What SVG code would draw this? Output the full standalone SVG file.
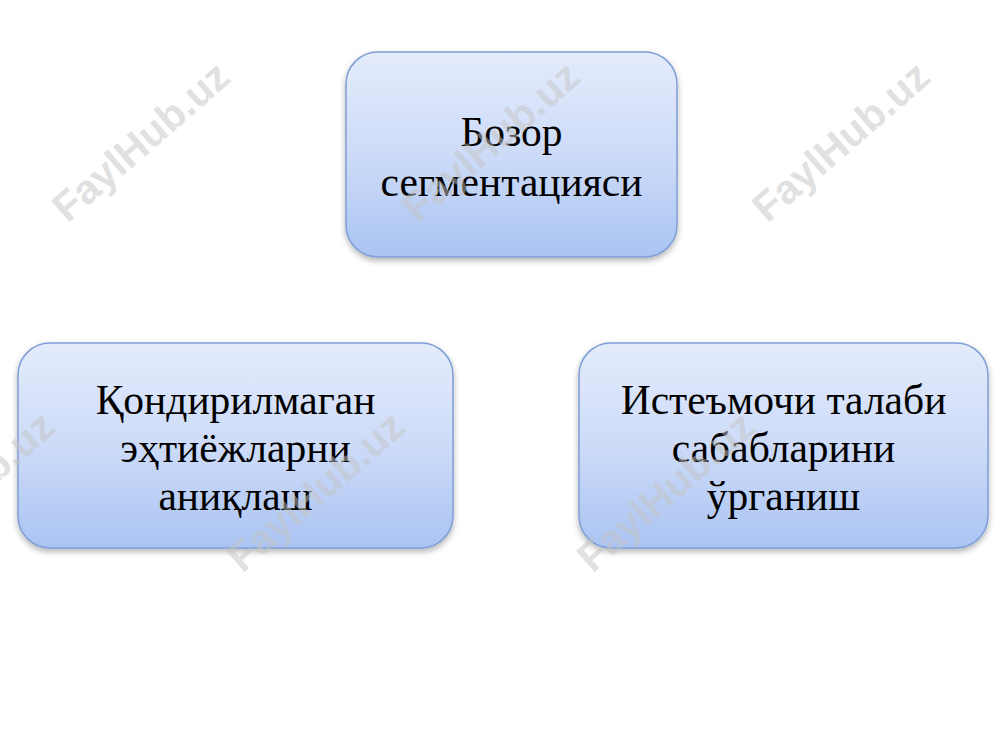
<svg xmlns="http://www.w3.org/2000/svg" width="1000" height="750" viewBox="0 0 1000 750">
<defs>
<linearGradient id="g" x1="0" y1="0" x2="0" y2="1">
<stop offset="0" stop-color="#e4ecfc"/>
<stop offset="0.5" stop-color="#cddbf8"/>
<stop offset="1" stop-color="#aac4f3"/>
</linearGradient>
<filter id="sh" x="-10%" y="-10%" width="120%" height="125%">
<feGaussianBlur in="SourceAlpha" stdDeviation="3"/>
<feOffset dx="0" dy="3" result="b"/>
<feComponentTransfer><feFuncA type="linear" slope="0.3"/></feComponentTransfer>
<feMerge><feMergeNode/><feMergeNode in="SourceGraphic"/></feMerge>
</filter>
</defs>
<style>
.box{fill:url(#g);stroke:#7f9fd6;stroke-width:1.5;filter:url(#sh)}
.t{font-family:"Liberation Serif","Times New Roman",serif;font-size:41.5px;fill:#000;text-anchor:middle}
.wm{font-family:"Liberation Sans",Arial,sans-serif;font-weight:bold;font-size:41px;fill:#c4c4c4;fill-opacity:0.5;text-anchor:middle}
</style>
<rect width="1000" height="750" fill="#fff"/>
<g id="connectors"></g>
<g id="node-top">
<rect class="box" x="346" y="52" width="331" height="205" rx="32"/>
<text class="t" x="511.5" y="146">Бозор</text>
<text class="t" x="511.5" y="196">сегментацияси</text>
</g>
<g id="node-left">
<rect class="box" x="18" y="343" width="435" height="205" rx="32"/>
<text class="t" x="235.5" y="414">Қондирилмаган</text>
<text class="t" x="235.5" y="462">эҳтиёжларни</text>
<text class="t" x="235.5" y="510">аниқлаш</text>
</g>
<g id="node-right">
<rect class="box" x="579" y="343" width="409" height="205" rx="32"/>
<text class="t" x="783.5" y="414">Истеъмочи талаби</text>
<text class="t" x="783.5" y="462">сабабларини</text>
<text class="t" x="783.5" y="510">ўрганиш</text>
</g>
<g id="watermarks">
<text class="wm" transform="translate(150,152) rotate(-41)">FaylHub.uz</text>
<text class="wm" transform="translate(500,152) rotate(-41)">FaylHub.uz</text>
<text class="wm" transform="translate(850,152) rotate(-41)">FaylHub.uz</text>
<text class="wm" transform="translate(-25,502) rotate(-41)">FaylHub.uz</text>
<text class="wm" transform="translate(325,502) rotate(-41)">FaylHub.uz</text>
<text class="wm" transform="translate(675,502) rotate(-41)">FaylHub.uz</text>
</g>
</svg>
